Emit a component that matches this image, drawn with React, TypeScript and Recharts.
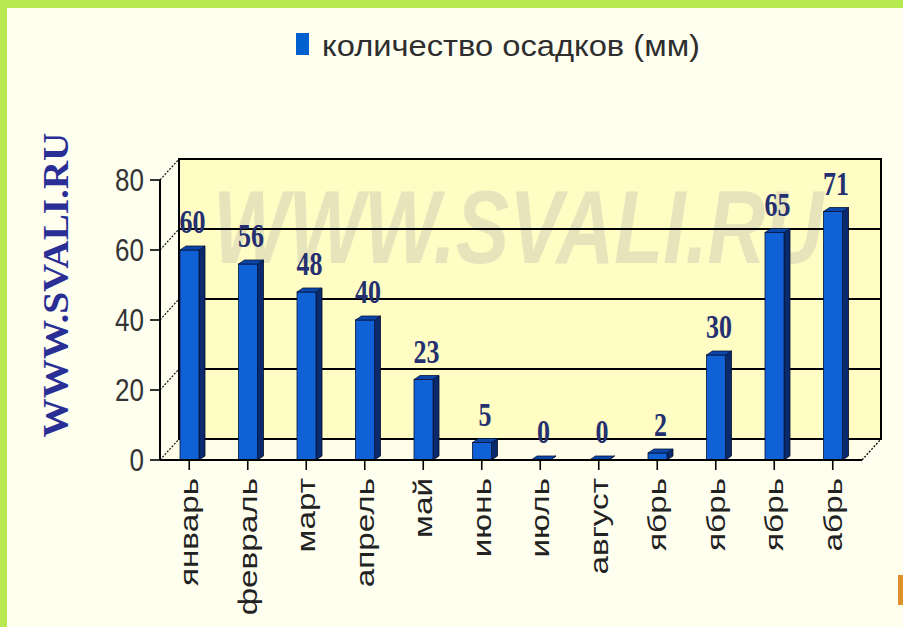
import React from 'react';
import { BarChart, Bar, XAxis, YAxis, CartesianGrid, ReferenceArea, LabelList, Legend } from 'recharts';

const months = ['январь', 'февраль', 'март', 'апрель', 'май', 'июнь', 'июль', 'август', 'ябрь', 'ябрь', 'ябрь', 'абрь'];
const precipitation = [60, 56, 48, 40, 23, 5, 0, 0, 2, 30, 65, 71];
const yTicks = [0, 20, 40, 60, 80];
const seriesName = 'количество осадков (мм)';

const data = months.map((month, i) => ({ month, value: precipitation[i] }));

// depth of the 3D box (back wall offset)
const DX = 19;
const DY = 21;
// text in this chart is drawn tall and narrow
const STRETCH = 1.3;

const SANS = "'Liberation Sans', Arial, sans-serif";
const SERIF = "'Liberation Serif', 'Times New Roman', serif";

const BackWall = (props: any) => {
  const { x, y, width, height } = props;
  const bottom = y + height;
  return (
    <g>
      <polygon
        points={`${x},${bottom} ${x + DX},${bottom - DY} ${x + width + DX},${bottom - DY} ${x + width},${bottom}`}
        fill="#fffde8"
      />
      <rect x={x + DX} y={y - DY} width={width} height={height} fill="#fffcc4" stroke="#000" strokeWidth={2} />
      <line x1={x + width} y1={bottom} x2={x + width + DX} y2={bottom - DY} stroke="#111" strokeWidth={1.4} strokeDasharray="2 1.5" />
      <text
        transform={`translate(${x + 53} ${y + 83}) scale(1 ${STRETCH})`}
        fontFamily={SANS}
        fontWeight="bold"
        fontStyle="italic"
        fontSize={80}
        fill="#c9c7b4"
        fillOpacity={0.45}
      >
        WWW.SVALI.RU
      </text>
    </g>
  );
};

const GridLine = (props: any) => {
  const { x1, y1, x2, index } = props;
  return (
    <g key={`grid-${index}`}>
      <line x1={x1} y1={y1} x2={x1 + DX} y2={y1 - DY} stroke="#111" strokeWidth={1.2} strokeDasharray="2 1.5" />
      <line x1={x1 + DX} y1={y1 - DY} x2={x2 + DX} y2={y1 - DY} stroke="#000" strokeWidth={2} />
    </g>
  );
};

const Bar3D = (props: any) => {
  const { x, y, width, height } = props;
  const sd = 6;
  const su = 4;
  const bottom = y + height;
  return (
    <g>
      <polygon
        points={`${x + width},${y} ${x + width + sd},${y - su} ${x + width + sd},${bottom - su} ${x + width},${bottom}`}
        fill="#0b2a6e"
        stroke="#050d25"
        strokeWidth={0.8}
      />
      <rect x={x} y={y} width={width} height={height} fill="#1161d6" stroke="#06143a" strokeWidth={0.8} />
      <polygon
        points={`${x},${y} ${x + sd},${y - su} ${x + width + sd},${y - su} ${x + width},${y}`}
        fill="#0b47aa"
        stroke="#06143a"
        strokeWidth={0.8}
      />
    </g>
  );
};

const ValueLabel = (props: any) => {
  const { x, y, width, value } = props;
  const cx = x + width / 2 + 3;
  const by = y - 17;
  return (
    <text
      transform={`translate(${cx} ${by}) scale(1 ${STRETCH})`}
      textAnchor="middle"
      fontFamily={SERIF}
      fontWeight="bold"
      fontSize={26}
      fill="#243070"
    >
      {value}
    </text>
  );
};

const YTick = (props: any) => {
  const { x, y, payload } = props;
  return (
    <text
      transform={`translate(${x - 4} ${y}) scale(1 1.2)`}
      textAnchor="end"
      dy="0.36em"
      fontFamily={SANS}
      fontSize={26}
      fill="#333"
    >
      {payload.value}
    </text>
  );
};

const XTick = (props: any) => {
  const { x, y, payload } = props;
  return (
    <text
      transform={`translate(${x} ${y + 6}) rotate(-90) scale(1.28 1)`}
      textAnchor="end"
      dy="0.35em"
      fontFamily={SANS}
      fontSize={26}
      fill="#222"
    >
      {payload.value}
    </text>
  );
};

const LegendContent = (props: any) => {
  const item = props.payload && props.payload[0];
  return (
    <svg width={903} height={40} style={{ display: 'block' }}>
      <rect x={296} y={5} width={13} height={22} fill={item ? item.color : '#0060d0'} />
      <text
        transform={`translate(322 28) scale(1 1.25)`}
        fontFamily={SANS}
        fontSize={24}
        fill="#2e2e2e"
        textLength={378}
        lengthAdjust="spacingAndGlyphs"
      >
        {item ? item.value : seriesName}
      </text>
    </svg>
  );
};

export default function App() {
  return (
    <div style={{ position: 'absolute', left: 0, top: 0, width: 903, height: 627, background: '#fffff0', overflow: 'hidden' }}>
      <BarChart width={903} height={627} data={data} margin={{ top: 180, right: 41, bottom: 17, left: 100 }}>
        <ReferenceArea y1={0} y2={80} shape={<BackWall />} ifOverflow="visible" zIndex={-200} />
        <CartesianGrid vertical={false} horizontal={GridLine} zIndex={-100} />
        <XAxis
          dataKey="month"
          height={150}
          interval={0}
          tick={<XTick />}
          tickSize={10}
          axisLine={{ stroke: '#000', strokeWidth: 2 }}
          tickLine={{ stroke: '#000', strokeWidth: 1.6 }}
        />
        <YAxis
          width={60}
          domain={[0, 80]}
          ticks={yTicks}
          tick={<YTick />}
          tickSize={10}
          axisLine={{ stroke: '#000', strokeWidth: 2 }}
          tickLine={{ stroke: '#000', strokeWidth: 1.6 }}
        />
        <Legend
          layout="horizontal"
          verticalAlign="middle"
          align="center"
          content={<LegendContent />}
          wrapperStyle={{ top: 28, left: 0, width: 903, height: 40 }}
        />
        <Bar dataKey="value" name={seriesName} fill="#0060d0" barSize={19} shape={<Bar3D />} isAnimationActive={false}>
          <LabelList dataKey="value" content={<ValueLabel />} />
        </Bar>
      </BarChart>
      <svg width={120} height={627} style={{ position: 'absolute', left: 0, top: 0 }}>
        <text
          transform="translate(68 285) rotate(-90) scale(1.12 1)"
          textAnchor="middle"
          fontFamily={SERIF}
          fontWeight="bold"
          fontSize={35}
          fill="#2a2f96"
        >
          WWW.SVALI.RU
        </text>
      </svg>
      <div style={{ position: 'absolute', left: 0, top: 0, width: 903, height: 8, background: '#b6ea50' }} />
      <div style={{ position: 'absolute', left: 0, top: 0, width: 7, height: 627, background: '#b6ea50' }} />
      <div style={{ position: 'absolute', left: 898, top: 575, width: 5, height: 30, background: '#e0902a' }} />
    </div>
  );
}
